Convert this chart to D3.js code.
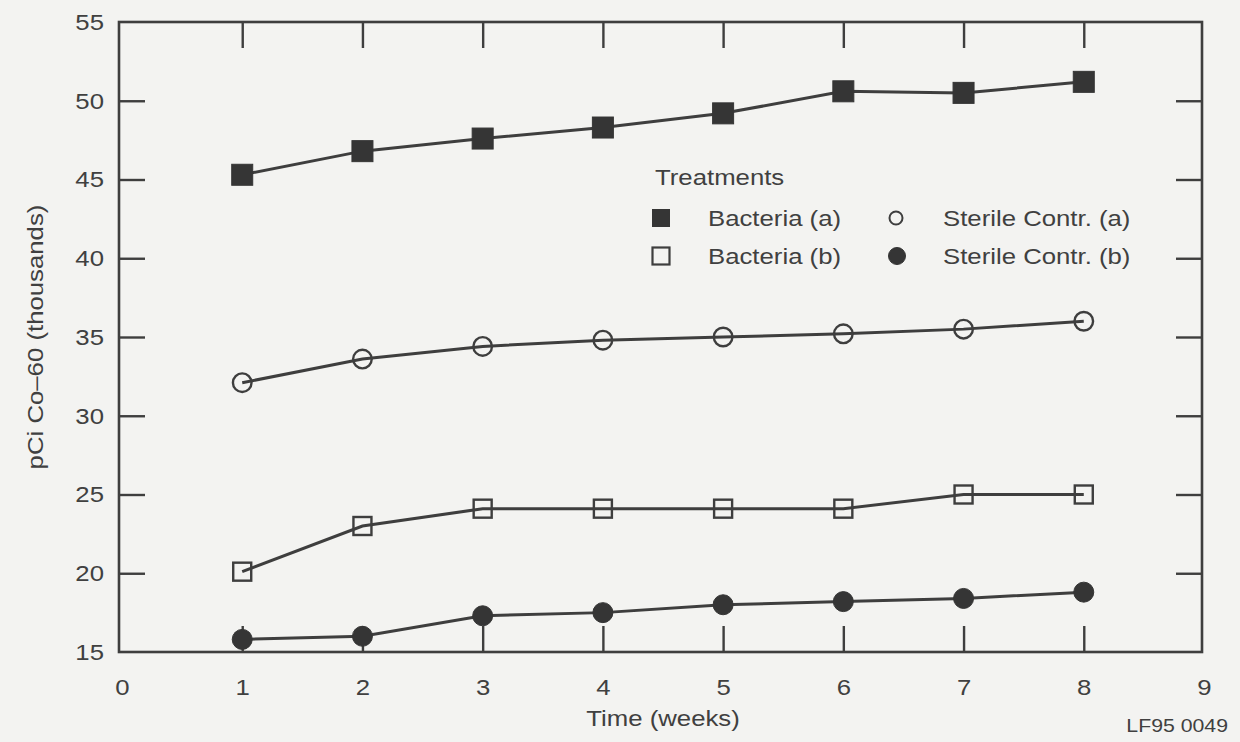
<!DOCTYPE html>
<html>
<head>
<meta charset="utf-8">
<script src="https://cdn.jsdelivr.net/npm/d3@7"></script>
<style>
  html, body { margin: 0; padding: 0; background: #f3f3f1; }
  svg { display: block; }
  text { font-family: "Liberation Sans", Arial, Helvetica, sans-serif; fill: #404040; }
</style>
</head>
<body>
<svg id="chart" width="1240" height="742"></svg>
<script>
// Co-60 activity per treatment over time
const weeks = [1, 2, 3, 4, 5, 6, 7, 8];
const bacteriaA = [45.3, 46.8, 47.6, 48.3, 49.2, 50.6, 50.5, 51.2];
const sterileA  = [32.1, 33.6, 34.4, 34.8, 35.0, 35.2, 35.5, 36.0];
const bacteriaB = [20.1, 23.0, 24.1, 24.1, 24.1, 24.1, 25.0, 25.0];
const sterileB  = [15.8, 16.0, 17.3, 17.5, 18.0, 18.2, 18.4, 18.8];

const xTicks = [0, 1, 2, 3, 4, 5, 6, 7, 8, 9];
const yTicks = [15, 20, 25, 30, 35, 40, 45, 50, 55];
const innerXTicks = [1, 2, 3, 4, 5, 6, 7, 8];
const innerYTicks = [20, 25, 30, 35, 40, 45, 50];

const seriesNames = ["Bacteria (a)", "Sterile Contr. (a)", "Bacteria (b)", "Sterile Contr. (b)"];
const legendTitle = "Treatments";
const xTitle = "Time (weeks)";
const yTitle = "pCi Co\u201360 (thousands)";
const figureId = "LF95 0049";

const INK = "#3e3e3e";
const TEXT = "#404040";
const STRETCH = 1.12;   // the lettering is set slightly wide
const FS = 23;

const svg = d3.select("#chart");
const plotLeft = 119, plotRight = 1202, plotTop = 22, plotBottom = 652;

const x = d3.scaleLinear().domain([0, 9]).range([122, 1204]);
const y = d3.scaleLinear().domain([15, 55]).range([plotBottom, plotTop]);

const tickLen = 26;

// frame
svg.append("rect")
  .attr("x", plotLeft).attr("y", plotTop)
  .attr("width", plotRight - plotLeft).attr("height", plotBottom - plotTop)
  .attr("fill", "none").attr("stroke", INK).attr("stroke-width", 2.6);

function styleAxis(g) {
  g.select(".domain").remove();
  g.selectAll(".tick line").attr("stroke", INK).attr("stroke-width", 2.4);
}

// bottom axis: inward ticks on weeks 1-8, labels on 0-9
svg.append("g")
  .attr("transform", `translate(0,${plotBottom})`)
  .call(d3.axisBottom(x).tickValues(innerXTicks).tickSize(-tickLen).tickFormat(""))
  .call(styleAxis);
svg.append("g")
  .attr("transform", `translate(0,${plotBottom})`)
  .call(d3.axisBottom(x).tickValues(xTicks).tickSize(0).tickPadding(27).tickFormat(d3.format("d")))
  .call(g => {
    g.select(".domain").remove();
    g.selectAll(".tick text")
      .attr("font-size", FS).attr("fill", TEXT)
      .attr("font-family", "Liberation Sans, Arial, sans-serif")
      .attr("transform", `scale(${STRETCH},1)`);
  });

// top axis
svg.append("g")
  .attr("transform", `translate(0,${plotTop})`)
  .call(d3.axisTop(x).tickValues(innerXTicks).tickSize(-tickLen).tickFormat(""))
  .call(styleAxis);

// left axis: inward ticks on 20-50, labels 15-55
svg.append("g")
  .attr("transform", `translate(${plotLeft},0)`)
  .call(d3.axisLeft(y).tickValues(innerYTicks).tickSize(-tickLen).tickFormat(""))
  .call(styleAxis);
svg.append("g")
  .attr("transform", `translate(${plotLeft},0)`)
  .call(d3.axisLeft(y).tickValues(yTicks).tickSize(0).tickPadding(15).tickFormat(d3.format("d")))
  .call(g => {
    g.select(".domain").remove();
    g.selectAll(".tick text")
      .attr("font-size", FS).attr("fill", TEXT)
      .attr("font-family", "Liberation Sans, Arial, sans-serif")
      .attr("x", -15 / STRETCH)
      .attr("transform", `scale(${STRETCH},1)`);
  });

// right axis
svg.append("g")
  .attr("transform", `translate(${plotRight},0)`)
  .call(d3.axisRight(y).tickValues(innerYTicks).tickSize(-tickLen).tickFormat(""))
  .call(styleAxis);

// axis titles
svg.append("g")
  .attr("transform", `translate(${(x(4) + x(5)) / 2},718) scale(${STRETCH},1)`)
  .append("text")
  .attr("text-anchor", "middle").attr("dy", "0.35em")
  .attr("font-size", FS).text(xTitle);

svg.append("g")
  .attr("transform", `translate(35,${(y(15) + y(55)) / 2}) rotate(-90) scale(${STRETCH},1)`)
  .append("text")
  .attr("text-anchor", "middle").attr("dy", "0.35em")
  .attr("font-size", FS).text(yTitle);

svg.append("g")
  .attr("transform", `translate(1228,725) scale(${STRETCH},1)`)
  .append("text")
  .attr("text-anchor", "end").attr("dy", "0.35em")
  .attr("font-size", 19).text(figureId);

// series lines
const line = d3.line().x((d, i) => x(weeks[i])).y(d => y(d));
const allSeries = [bacteriaA, sterileA, bacteriaB, sterileB];
allSeries.forEach(s => {
  svg.append("path")
    .datum(s)
    .attr("d", line)
    .attr("fill", "none")
    .attr("stroke", INK)
    .attr("stroke-width", 3);
});

// markers
function drawSquares(data, size, filled) {
  svg.append("g").selectAll("rect")
    .data(data).join("rect")
    .attr("x", (d, i) => x(weeks[i]) - size / 2)
    .attr("y", d => y(d) - size / 2)
    .attr("width", size).attr("height", size)
    .attr("fill", filled ? "#353535" : "none")
    .attr("stroke", filled ? "#353535" : INK)
    .attr("stroke-width", filled ? 1 : 2.4);
}
function drawCircles(data, r, filled) {
  svg.append("g").selectAll("circle")
    .data(data).join("circle")
    .attr("cx", (d, i) => x(weeks[i]))
    .attr("cy", d => y(d))
    .attr("r", r)
    .attr("fill", filled ? "#353535" : "none")
    .attr("stroke", filled ? "#353535" : INK)
    .attr("stroke-width", filled ? 1 : 2.4);
}
drawSquares(bacteriaA, 21, true);
drawCircles(sterileA, 9.3, false);
drawSquares(bacteriaB, 18, false);
drawCircles(sterileB, 10, true);

// legend
const lg = svg.append("g");
lg.append("g").attr("transform", `translate(655,177) scale(${STRETCH},1)`)
  .append("text").attr("dy", "0.35em").attr("font-size", FS).text(legendTitle);

const legendItems = [
  { name: seriesNames[0], kind: "square", filled: true,  mx: 661, tx: 708, ty: 218 },
  { name: seriesNames[1], kind: "circle", filled: false, mx: 896, tx: 943, ty: 218 },
  { name: seriesNames[2], kind: "square", filled: false, mx: 661, tx: 708, ty: 256 },
  { name: seriesNames[3], kind: "circle", filled: true,  mx: 897, tx: 943, ty: 256 }
];
legendItems.forEach(it => {
  if (it.kind === "square") {
    const s = 17;
    lg.append("rect")
      .attr("x", it.mx - s / 2).attr("y", it.ty - s / 2)
      .attr("width", s).attr("height", s)
      .attr("fill", it.filled ? "#353535" : "none")
      .attr("stroke", it.filled ? "#353535" : INK)
      .attr("stroke-width", it.filled ? 1 : 2.2);
  } else {
    lg.append("circle")
      .attr("cx", it.mx).attr("cy", it.ty)
      .attr("r", it.filled ? 8.5 : 6.5)
      .attr("fill", it.filled ? "#353535" : "none")
      .attr("stroke", it.filled ? "#353535" : INK)
      .attr("stroke-width", it.filled ? 1 : 2);
  }
  lg.append("g").attr("transform", `translate(${it.tx},${it.ty}) scale(${STRETCH},1)`)
    .append("text").attr("dy", "0.35em").attr("font-size", FS).text(it.name);
});
</script>
</body>
</html>
